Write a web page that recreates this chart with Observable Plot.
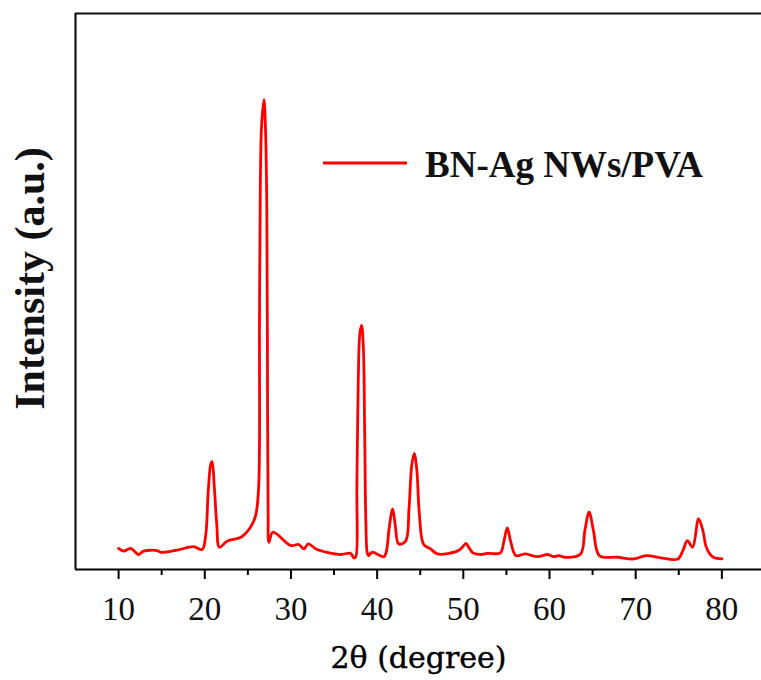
<!DOCTYPE html>
<html>
<head>
<meta charset="utf-8">
<script src="https://cdn.jsdelivr.net/npm/d3@7"></script>
<script src="https://cdn.jsdelivr.net/npm/@observablehq/plot@0.6"></script>
<style>
  html, body { margin: 0; padding: 0; background: #fff; }
</style>
</head>
<body>
<div id="chart"></div>
<script>
const seriesName = "BN-Ag NWs/PVA";
const xTitle = "2θ (degree)";
const yTitle = "Intensity (a.u.)";
const majorTicks = [10, 20, 30, 40, 50, 60, 70, 80];
const minorTicks = [15, 25, 35, 45, 55, 65, 75];

const twoTheta = [10, 10.6, 11.4, 12.3, 12.9, 14.5, 14.9, 16.8, 18.7, 19.7, 20.1, 20.4, 20.7, 20.85, 21.1, 21.4, 21.7,
  22.6, 24.2, 25.3, 25.9, 26.25, 26.35, 26.45, 26.6, 26.87, 27.05, 27.2, 27.27, 27.35, 27.45, 27.9,
  30, 30.9, 31.5, 32, 32.9, 34.2, 35.8, 36.9, 37.3, 37.5, 37.65, 37.8, 38.0, 38.2, 38.4, 38.55, 38.7, 38.85, 39.0,
  39.4, 40.8, 41.1, 41.4, 41.8, 42.1, 42.5, 43.3, 43.7, 44.0, 44.3, 44.6, 44.9, 45.4, 46.2, 47,
  49.3, 49.9, 50.3, 50.7, 51.1, 52, 52.8, 54.3, 54.7, 55.1, 55.5, 56.1, 57.2, 58.6, 59.8, 60.5, 61.1, 61.7,
  63.6, 64.1, 64.6, 65.1, 65.8, 67.9, 69.8, 71.2, 72.9, 74.9, 75.5, 76, 76.6, 77.3, 77.8, 78.2, 78.9, 80];
const intensity = [38, 33, 38, 27, 33, 34, 31, 35, 41, 36, 60, 140, 190, 194, 150, 80, 40,
  51, 58, 76, 97, 148, 450, 700, 800, 845, 790, 650, 400, 100, 49, 67,
  43, 45, 37, 46, 37, 31, 27, 29, 21, 22, 150, 330, 425, 439, 400, 250, 80, 30, 25,
  31, 23, 35, 75, 109, 80, 46, 51, 110, 185, 209, 180, 100, 45, 37, 28,
  33, 40, 47, 38, 30, 27, 29, 30, 50, 75, 50, 25, 28, 23, 27, 23, 25, 22,
  28, 70, 103, 70, 25, 22, 19, 25, 21, 19, 35, 52, 40, 91, 70, 40, 23, 19];

const data = twoTheta.map((x, i) => ({x, y: intensity[i]}));

const serif = "'Liberation Serif', 'Times New Roman', serif";
const wideSerif = "'DejaVu Serif', serif";
const red = "#ff0000";

const plot = Plot.plot({
  width: 761,
  height: 680,
  marginLeft: 75,
  marginRight: 0,
  marginTop: 13,
  marginBottom: 111,
  style: {fontFamily: serif, background: "#fff", overflow: "visible"},
  x: {domain: [5, 84.6]},
  y: {domain: [0, 1000]},
  marks: [
    Plot.line(data, {x: "x", y: "y", stroke: red, strokeWidth: 2.8, curve: "catmull-rom"}),
    Plot.axisX({ticks: majorTicks, tickSize: 10, tickPadding: 17, fontSize: 33, fontFamily: serif, stroke: "#000", strokeWidth: 2, fill: "#111", label: null, tickFormat: d => String(d)}),
    Plot.axisX({ticks: minorTicks, tickSize: 6, tickFormat: () => "", stroke: "#000", strokeWidth: 2, label: null}),
    Plot.axisY({ticks: [], label: null}),
    Plot.ruleY([0], {stroke: "#000", strokeWidth: 2.2}),
    Plot.ruleY([1000], {stroke: "#111", strokeWidth: 2.2}),
    Plot.ruleX([5], {stroke: "#111", strokeWidth: 2.2}),
    Plot.text([yTitle], {frameAnchor: "left", textAnchor: "middle", dx: -45, dy: -13, rotate: -90, fontSize: 42, fontWeight: "bold", fontFamily: serif, fill: "#111"}),
    Plot.text([xTitle], {frameAnchor: "bottom", textAnchor: "middle", dy: 98, fontSize: 30, fontFamily: wideSerif, fill: "#000", stroke: "#000", strokeWidth: 0.4})
  ]
});

const svg = d3.select(plot);
const lg = svg.append("g");
lg.append("line").attr("x1", 323).attr("x2", 407).attr("y1", 163).attr("y2", 163)
  .attr("stroke", red).attr("stroke-width", 2.8);
lg.append("text").attr("x", 425).attr("y", 177).attr("text-anchor", "start").text(seriesName)
  .attr("font-family", serif).attr("font-weight", "bold").attr("font-size", 37).attr("fill", "#111");

document.getElementById("chart").appendChild(plot);
</script>
</body>
</html>
